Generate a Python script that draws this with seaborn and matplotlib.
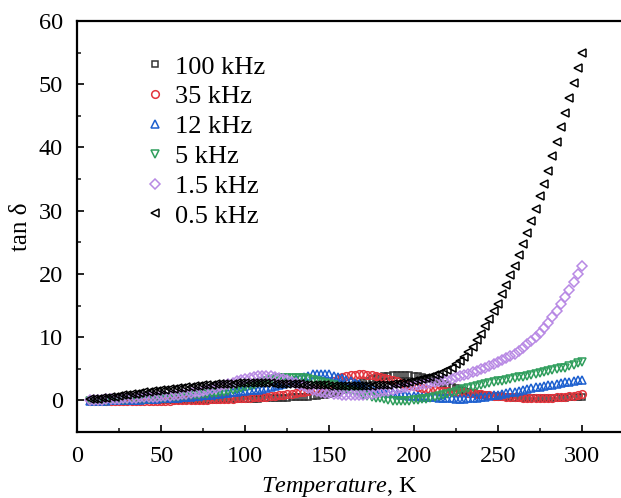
import numpy as np
import matplotlib
matplotlib.use("Agg")
import matplotlib.pyplot as plt
import seaborn as sns
from matplotlib.ticker import MultipleLocator

temperature = np.arange(7.5, 300.1, 2.5)

labels = ["100 kHz", "35 kHz", "12 kHz", "5 kHz", "1.5 kHz", "0.5 kHz"]

tan_100k = [-0.05,
    -0.05, -0.05, -0.05, -0.05, -0.05, -0.04, -0.04, -0.03, -0.03, -0.02, -0.01, -0.01,
    0.0, 0.01, 0.01, 0.02, 0.03, 0.03, 0.04, 0.04, 0.05, 0.06, 0.07, 0.08,
    0.09, 0.1, 0.1, 0.11, 0.12, 0.13, 0.15, 0.16, 0.17, 0.18, 0.2, 0.21,
    0.22, 0.24, 0.26, 0.28, 0.3, 0.32, 0.35, 0.37, 0.4, 0.42, 0.45, 0.47,
    0.5, 0.53, 0.57, 0.61, 0.65, 0.72, 0.8, 0.9, 1.0, 1.18, 1.38, 1.58,
    1.8, 2.08, 2.36, 2.64, 2.9, 3.12, 3.32, 3.52, 3.7, 3.8, 3.9, 3.96,
    4.0, 4.0, 3.98, 3.95, 3.9, 3.8, 3.68, 3.55, 3.4, 3.15, 2.9, 2.65,
    2.4, 2.17, 1.95, 1.72, 1.5, 1.35, 1.2, 1.05, 0.9, 0.82, 0.75, 0.67,
    0.6, 0.56, 0.52, 0.49, 0.45, 0.44, 0.42, 0.41, 0.4, 0.4, 0.4, 0.4,
    0.4, 0.41, 0.42, 0.44, 0.45, 0.46, 0.47, 0.49, 0.5]

tan_35k = [-0.1,
    -0.1, -0.1, -0.1, -0.1, -0.1, -0.1, -0.1, -0.1, -0.1, -0.1, -0.1, -0.1,
    -0.1, -0.09, -0.08, -0.06, -0.05, -0.04, -0.03, -0.01, 0.0, 0.01, 0.03, 0.04,
    0.05, 0.08, 0.1, 0.13, 0.15, 0.18, 0.2, 0.23, 0.25, 0.29, 0.33, 0.36,
    0.4, 0.44, 0.48, 0.51, 0.55, 0.61, 0.67, 0.74, 0.8, 0.88, 0.97, 1.06,
    1.15, 1.26, 1.38, 1.51, 1.65, 1.85, 2.08, 2.33, 2.6, 3.0, 3.4, 3.68,
    3.9, 4.0, 4.07, 4.1, 4.1, 4.05, 3.95, 3.83, 3.7, 3.53, 3.35, 3.18,
    3.0, 2.8, 2.6, 2.4, 2.2, 2.06, 1.93, 1.81, 1.7, 1.63, 1.56, 1.5,
    1.45, 1.4, 1.35, 1.3, 1.25, 1.19, 1.13, 1.06, 1.0, 0.92, 0.85, 0.77,
    0.7, 0.65, 0.6, 0.55, 0.5, 0.47, 0.45, 0.42, 0.4, 0.4, 0.4, 0.4,
    0.4, 0.43, 0.47, 0.51, 0.55, 0.64, 0.74, 0.84, 0.95]

tan_12k = [-0.1,
    -0.1, -0.08, -0.05, -0.03, 0.0, 0.01, 0.03, 0.04, 0.05, 0.08, 0.1, 0.13,
    0.15, 0.19, 0.23, 0.26, 0.3, 0.34, 0.38, 0.41, 0.45, 0.5, 0.55, 0.6,
    0.65, 0.71, 0.78, 0.84, 0.9, 0.98, 1.05, 1.13, 1.2, 1.28, 1.35, 1.43,
    1.5, 1.57, 1.65, 1.72, 1.8, 1.93, 2.08, 2.24, 2.4, 2.62, 2.85, 3.08,
    3.3, 3.52, 3.73, 3.93, 4.1, 4.2, 4.22, 4.18, 4.1, 3.92, 3.72, 3.51,
    3.3, 3.05, 2.8, 2.55, 2.3, 2.1, 1.9, 1.7, 1.5, 1.37, 1.24, 1.12,
    1.0, 0.92, 0.85, 0.77, 0.7, 0.65, 0.6, 0.55, 0.5, 0.46, 0.42, 0.38,
    0.35, 0.32, 0.29, 0.27, 0.25, 0.3, 0.36, 0.43, 0.5, 0.6, 0.7, 0.8,
    0.9, 1.02, 1.15, 1.27, 1.4, 1.55, 1.7, 1.83, 1.95, 2.06, 2.18, 2.29,
    2.4, 2.51, 2.63, 2.74, 2.85, 2.96, 3.08, 3.19, 3.3]

tan_5k = [-0.1,
    -0.1, -0.08, -0.05, -0.03, 0.0, 0.02, 0.05, 0.07, 0.1, 0.14, 0.18, 0.21,
    0.25, 0.29, 0.33, 0.36, 0.4, 0.45, 0.5, 0.55, 0.6, 0.66, 0.72, 0.79,
    0.85, 0.91, 0.97, 1.04, 1.1, 1.2, 1.3, 1.4, 1.5, 1.65, 1.8, 1.95,
    2.1, 2.3, 2.5, 2.7, 2.9, 3.06, 3.22, 3.37, 3.5, 3.55, 3.58, 3.6,
    3.6, 3.56, 3.5, 3.41, 3.3, 3.14, 2.96, 2.78, 2.6, 2.38, 2.15, 1.93,
    1.7, 1.5, 1.3, 1.1, 0.9, 0.74, 0.58, 0.44, 0.3, 0.18, 0.07, -0.03,
    -0.1, -0.1, -0.08, -0.05, 0.0, 0.09, 0.19, 0.29, 0.4, 0.55, 0.7, 0.85,
    1.0, 1.2, 1.4, 1.6, 1.8, 1.98, 2.15, 2.33, 2.5, 2.63, 2.75, 2.88,
    3.0, 3.13, 3.25, 3.38, 3.5, 3.63, 3.75, 3.88, 4.0, 4.15, 4.3, 4.45,
    4.6, 4.75, 4.9, 5.05, 5.2, 5.4, 5.6, 5.85, 6.1]

tan_1_5k = [0.0,
    0.05, 0.09, 0.12, 0.16, 0.2, 0.24, 0.28, 0.31, 0.35, 0.39, 0.43, 0.46,
    0.5, 0.54, 0.58, 0.61, 0.65, 0.71, 0.77, 0.83, 0.9, 0.98, 1.07, 1.16,
    1.25, 1.38, 1.52, 1.66, 1.8, 2.0, 2.2, 2.4, 2.6, 2.8, 3.0, 3.2,
    3.4, 3.55, 3.7, 3.8, 3.85, 3.85, 3.8, 3.7, 3.6, 3.4, 3.2, 2.95,
    2.7, 2.45, 2.2, 1.95, 1.7, 1.52, 1.36, 1.22, 1.1, 1.02, 0.95, 0.9,
    0.85, 0.84, 0.85, 0.87, 0.9, 0.98, 1.08, 1.19, 1.3, 1.42, 1.55, 1.68,
    1.8, 1.92, 2.05, 2.17, 2.3, 2.42, 2.55, 2.67, 2.8, 2.92, 3.05, 3.17,
    3.3, 3.46, 3.63, 3.81, 4.0, 4.22, 4.44, 4.67, 4.9, 5.17, 5.44, 5.72,
    6.0, 6.33, 6.67, 7.03, 7.4, 7.87, 8.36, 8.87, 9.4, 10.05, 10.73, 11.45,
    12.2, 13.2, 14.2, 15.3, 16.4, 17.5, 18.7, 20.0, 21.3]

tan_0_5k = [0.15,
    0.2, 0.28, 0.35, 0.42, 0.5, 0.6, 0.7, 0.8, 0.9, 0.99, 1.08, 1.16,
    1.25, 1.34, 1.43, 1.51, 1.6, 1.69, 1.78, 1.86, 1.95, 2.03, 2.1, 2.18,
    2.25, 2.32, 2.38, 2.44, 2.5, 2.54, 2.58, 2.62, 2.65, 2.67, 2.68, 2.69,
    2.7, 2.7, 2.7, 2.7, 2.7, 2.69, 2.68, 2.67, 2.65, 2.63, 2.6, 2.58,
    2.55, 2.53, 2.5, 2.48, 2.45, 2.42, 2.4, 2.37, 2.35, 2.33, 2.32, 2.31,
    2.3, 2.3, 2.3, 2.3, 2.3, 2.32, 2.34, 2.37, 2.4, 2.44, 2.49, 2.54,
    2.6, 2.68, 2.78, 2.88, 3.0, 3.15, 3.32, 3.5, 3.7, 3.95, 4.2, 4.5,
    4.8, 5.2, 5.7, 6.2, 6.8, 7.6, 8.5, 9.5, 10.5, 11.7, 12.9, 14.1,
    15.3, 16.8, 18.3, 19.8, 21.3, 23.0, 24.8, 26.5, 28.3, 30.3, 32.3, 34.3,
    36.3, 38.6, 40.9, 43.2, 45.5, 47.9, 50.2, 52.6, 55.0]

series = [tan_100k, tan_35k, tan_12k, tan_5k, tan_1_5k, tan_0_5k]
for s in series:
    assert len(s) == len(temperature), (len(s), len(temperature))

colors = ["#333333", "#e3343c", "#1c5fcf", "#2f9e5c", "#b889e4", "#000000"]
markers = ["s", "o", "^", "v", "D", "<"]
msizes = [5.0, 5.5, 6.0, 6.0, 5.0, 6.0]

sns.set_theme(style="ticks")
plt.rcParams["font.family"] = ["Liberation Serif", "DejaVu Serif"]
plt.rcParams["mathtext.fontset"] = "custom"
plt.rcParams["mathtext.rm"] = "Liberation Serif"
plt.rcParams["mathtext.it"] = "Liberation Serif:italic"

fig = plt.figure(figsize=(6.21, 4.98), dpi=100)
ax = fig.add_axes([77 / 621, 1 - 432 / 498, (621 - 77) / 621, (432 - 21) / 498])

for vals, lab, c, m, ms in zip(series, labels, colors, markers, msizes):
    sns.lineplot(x=temperature, y=vals, ax=ax, label=lab, linestyle="",
                 marker=m, markersize=ms, markerfacecolor="none",
                 markeredgecolor=c, markeredgewidth=1.1, color=c)

ax.set_xlim(0, 323.2)
ax.set_ylim(-5, 60)
ax.xaxis.set_major_locator(MultipleLocator(50))
ax.xaxis.set_minor_locator(MultipleLocator(25))
ax.yaxis.set_major_locator(MultipleLocator(10))
ax.yaxis.set_minor_locator(MultipleLocator(5))
ax.tick_params(axis="both", which="major", direction="in", length=5, width=1.2,
               labelsize=17.5, color="black", labelcolor="black", pad=10)
ax.tick_params(axis="both", which="minor", direction="in", length=3, width=1.2)
ax.tick_params(top=False, right=False, which="both")

for side in ["left", "bottom", "top"]:
    ax.spines[side].set_linewidth(1.6)
    ax.spines[side].set_color("black")
ax.spines["right"].set_visible(False)

ax.set_xlabel(r"$\mathit{Temperature}$, K", fontsize=17.5, color="black")
ax.xaxis.set_label_coords(0.483, -0.09, transform=None) if False else None
ax.xaxis.set_label_coords(0.483, -0.105)
ax.xaxis.label.set_va("top")
ax.set_ylabel("tan δ", fontsize=18, color="black")
ax.yaxis.set_label_coords(-0.082, 0.5)

leg = ax.legend(loc="upper left", bbox_to_anchor=(0.127, 0.917), frameon=False,
                fontsize=19, handlelength=0.7, handletextpad=0.4,
                labelspacing=0.24, borderpad=0.0, borderaxespad=0.0)
for t in leg.get_texts():
    t.set_color("black")

fig.savefig("out.png", dpi=100)
